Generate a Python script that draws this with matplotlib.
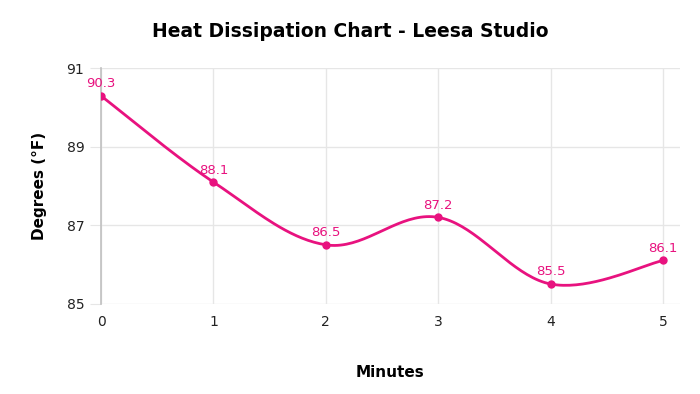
import numpy as np
import matplotlib
matplotlib.use("Agg")
import matplotlib.pyplot as plt

minutes = [0, 1, 2, 3, 4, 5]
degrees = [90.3, 88.1, 86.5, 87.2, 85.5, 86.1]
y_ticks = [85, 87, 89, 91]

LINE = '#e8127f'


def smooth_curve(xs, ys, k=0.35, n=40):
    # cubic bezier through points, control points from neighbours
    xs = np.asarray(xs, float)
    ys = np.asarray(ys, float)
    px, py = [], []
    for i in range(len(xs) - 1):
        x0, y0 = xs[max(i - 1, 0)], ys[max(i - 1, 0)]
        x1, y1 = xs[i], ys[i]
        x2, y2 = xs[i + 1], ys[i + 1]
        x3, y3 = xs[min(i + 2, len(xs) - 1)], ys[min(i + 2, len(xs) - 1)]
        c1x, c1y = x1 + (x2 - x0) * k / 2, y1 + (y2 - y0) * k / 2
        c2x, c2y = x2 - (x3 - x1) * k / 2, y2 - (y3 - y1) * k / 2
        t = np.linspace(0, 1, n)
        a, b, c, d = (1 - t) ** 3, 3 * (1 - t) ** 2 * t, 3 * (1 - t) * t ** 2, t ** 3
        px.extend(a * x1 + b * c1x + c * c2x + d * x2)
        py.extend(a * y1 + b * c1y + c * c2y + d * y2)
    return px, py


plt.rcParams['font.family'] = ['DejaVu Sans']
fig = plt.figure(figsize=(7, 3.94), dpi=100)
ax = fig.add_axes([0.1443, 0.2284, 0.827, 0.599])

sx, sy = smooth_curve(minutes, degrees)
ax.plot(sx, sy, color=LINE, lw=2, zorder=3)
ax.plot(minutes, degrees, 'o', color=LINE, ms=5, zorder=4)
for x, y in zip(minutes, degrees):
    ax.annotate(f"{y}", (x, y), xytext=(0, 4), textcoords='offset points',
                ha='center', va='bottom', color=LINE, fontsize=9.5, zorder=5)

ax.set_xlim(0, 5.15)
ax.set_ylim(84.99, 91.01)
ax.set_xticks(minutes)
ax.set_yticks(y_ticks)
ax.grid(True, color='#e6e6e6', lw=1)
ax.set_axisbelow(True)
for s in ['top', 'right', 'bottom']:
    ax.spines[s].set_visible(False)
ax.spines['left'].set_color('#c0c0c0')
ax.spines['left'].set_linewidth(1.2)
ax.tick_params(axis='x', length=0, pad=8, labelsize=10, colors='#222222')
ax.tick_params(axis='y', length=8, color='#e6e6e6', pad=4, labelsize=10, labelcolor='#222222')

ax.set_xlabel("Minutes", fontsize=11, fontweight='bold', labelpad=26)
ax.set_ylabel("Degrees (°F)", fontsize=11, fontweight='bold', labelpad=14)
fig.suptitle("Heat Dissipation Chart - Leesa Studio", fontsize=13.5, fontweight='bold', y=0.945)

fig.savefig('out.png', dpi=100)
